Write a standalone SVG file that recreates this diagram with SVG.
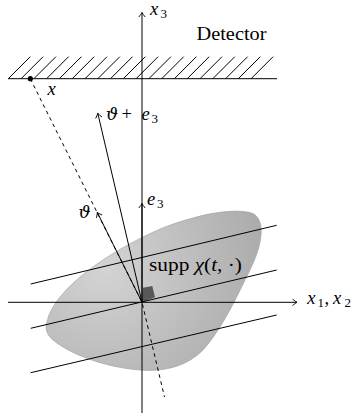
<svg xmlns="http://www.w3.org/2000/svg" width="355" height="414" viewBox="0 0 355 414">
<style>
.ln{fill:none;stroke:#000;stroke-width:1}
.t{font-family:"Liberation Serif","DejaVu Serif",serif;font-size:18.5px;fill:#000}
.m{font-style:italic}
.s{font-size:13px;font-style:normal}
.g{font-family:"DejaVu Serif",serif;font-style:italic;font-size:17px}
</style>
<defs>
<marker id="ah" markerUnits="userSpaceOnUse" markerWidth="10" markerHeight="10" refX="0" refY="0" viewBox="-6 -5 8 10" orient="auto">
<path d="M-4.5,-3.2 Q-1.5,-0.8 0,0 Q-1.5,0.8 -4.5,3.2" fill="none" stroke="#000" stroke-width="0.9"/>
</marker>
<radialGradient id="g" gradientUnits="userSpaceOnUse" cx="105" cy="268" r="175">
<stop offset="0" stop-color="#d4d4d4"/>
<stop offset="1" stop-color="#a8a8a8"/>
</radialGradient>
</defs>
<g id="support">
<path d="M47,322 C52,295 95,258 160,229 C200,213 238,207 254,214 C266,222 262,246 250,270 C238,294 222,330 202,351 C186,367 162,372 140,370 C110,368 72,356 53,340 C46,334 45,328 47,322 Z" fill="url(#g)" stroke="#9c9c9c" stroke-width="0.6"/>
<polygon points="142,302.3 155,297.2 152.3,286 143,287.7" fill="#585858"/>
<text class="t" x="149" y="271" textLength="93" lengthAdjust="spacingAndGlyphs">supp <tspan class="m">χ</tspan>(<tspan class="m">t</tspan>, ·)</text>
</g>
<g id="detector">
<path class="ln" d="M8,78.7 H277"/>
<path class="ln" d="M8.3,78.7 l22,-22 M21.1,78.7 l22,-22 M33.9,78.7 l22,-22 M46.6,78.7 l22,-22 M59.4,78.7 l22,-22 M72.2,78.7 l22,-22 M85,78.7 l22,-22 M97.8,78.7 l22,-22 M110.5,78.7 l22,-22 M123.3,78.7 l22,-22 M136.1,78.7 l22,-22 M148.9,78.7 l22,-22 M161.7,78.7 l22,-22 M174.4,78.7 l22,-22 M187.2,78.7 l22,-22 M200,78.7 l22,-22 M212.8,78.7 l22,-22 M225.6,78.7 l22,-22 M238.3,78.7 l22,-22 M251.1,78.7 l22,-22"/>
<text class="t" x="196.5" y="40" textLength="70" lengthAdjust="spacingAndGlyphs">Detector</text>
</g>
<g id="point-x">
<circle cx="30.3" cy="78.7" r="2.6" fill="#000"/>
<text class="t m" x="47.5" y="95">x</text>
</g>
<g id="connectors">
<path class="ln" d="M142,413 V12.5" marker-end="url(#ah)"/>
<path class="ln" d="M8,302.3 H297" marker-end="url(#ah)"/>
<path class="ln" d="M30.7,284 L276.7,225.3"/>
<path class="ln" d="M30.7,328.3 L276.7,270"/>
<path class="ln" d="M30.7,372.7 L276.7,315"/>
<path class="ln" d="M30.3,78.7 L142,302.3 L164.5,397" stroke-dasharray="3.6 3.6"/>
<path class="ln" d="M142,302.3 L97.3,212.5" marker-end="url(#ah)"/>
<path class="ln" d="M142,302.3 L97.8,113.3" marker-end="url(#ah)"/>
<path class="ln" d="M142,302.3 V203.5" marker-end="url(#ah)"/>
</g>
<g id="labels">
<text class="t m" y="15"><tspan x="150">x</tspan><tspan class="s" x="160.5" dy="2.5">3</tspan></text>
<text class="t m" y="304"><tspan x="307.3">x</tspan><tspan class="s" x="317.5" dy="2.5">1</tspan><tspan x="324.5" dy="-2.5" font-style="normal">,</tspan><tspan x="333">x</tspan><tspan class="s" x="344.5" dy="2.5">2</tspan></text>
<text class="t m" y="120"><tspan class="g" x="106">ϑ</tspan><tspan x="121.5" font-style="normal">+</tspan><tspan x="141.5">e</tspan><tspan class="s" x="151.5" dy="2.5">3</tspan></text>
<text class="t m" y="205"><tspan x="147">e</tspan><tspan class="s" x="157" dy="2.5">3</tspan></text>
<text class="t m" y="218"><tspan class="g" x="78.5">ϑ</tspan></text>
</g>
</svg>
